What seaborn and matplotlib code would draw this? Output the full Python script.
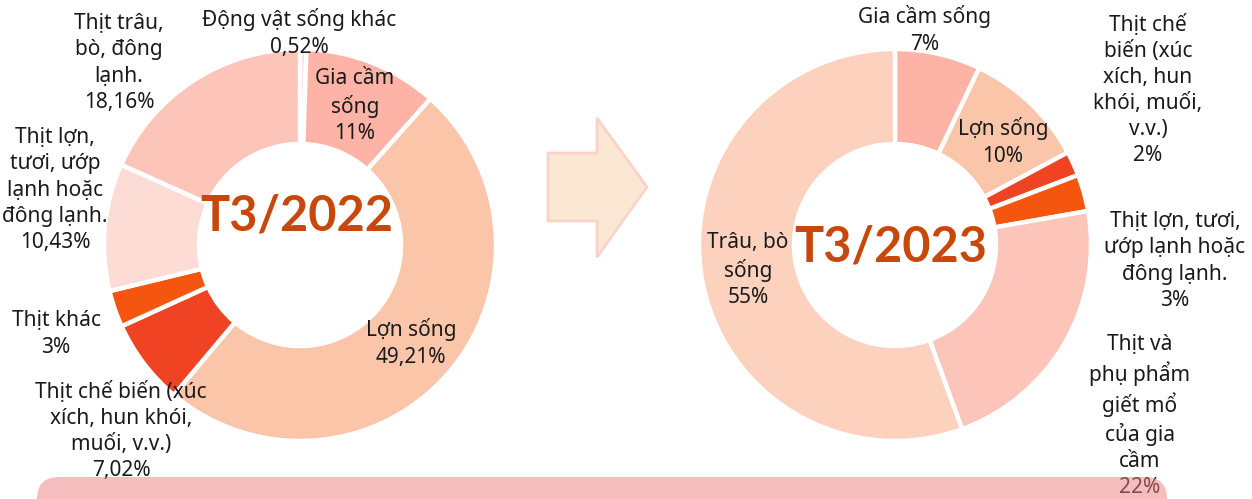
import matplotlib
matplotlib.use("Agg")
import matplotlib.pyplot as plt
from matplotlib.patches import FancyBboxPatch, Polygon
import seaborn as sns

# ---- data -------------------------------------------------------------
labels_2022 = [
    "Động vật sống khác\n0,52%",
    "Gia cầm\nsống\n11%",
    "Lợn sống\n49,21%",
    "Thịt chế biến (xúc\nxích, hun khói,\nmuối, v.v.)\n7,02%",
    "Thịt khác\n3%",
    "Thịt lợn,\ntươi, ướp\nlạnh hoặc\nđông lạnh.\n10,43%",
    "Thịt trâu,\nbò, đông\nlạnh.\n18,16%",
]
values_2022 = [0.52, 11, 49.21, 7.02, 3, 10.43, 18.16]

labels_2023 = [
    "Gia cầm sống\n7%",
    "Lợn sống\n10%",
    "Thịt chế\nbiến (xúc\nxích, hun\nkhói, muối,\nv.v.)\n2%",
    "Thịt lợn, tươi,\nướp lạnh hoặc\nđông lạnh.\n3%",
    "Thịt và\nphụ phẩm\ngiết mổ\ncủa gia\ncầm\n22%",
    "Trâu, bò\nsống\n55%",
]
values_2023 = [7, 10, 2, 3, 22, 55]

titles = ["T3/2022", "T3/2023"]

# ---- styling ----------------------------------------------------------
colors_2022 = ["#fcdcd5", "#fdb4a6", "#fbc5aa", "#f04323", "#f4560f", "#fddcd6", "#fdc4b9"]
colors_2023 = ["#fdb4a6", "#fbc5aa", "#f04323", "#f4560f", "#fdc4b9", "#fcd1bd"]

sns.set_theme(style="white")
plt.rcParams["font.family"] = ["Noto Sans", "DejaVu Sans"]

W, H = 1252, 499
fig = plt.figure(figsize=(W / 100, H / 100), dpi=100)
ax = fig.add_axes([0, 0, 1, 1])

# layout (pixel positions, y measured from the top)
donut_centres = [(300, 245), (895, 245)]
outer_r = 196
ring_w = 95
title_pos = [(297, 216), (891, 247)]
label_pos_2022 = [(299, 33), (355, 106), (411, 343), (121, 431), (56, 334), (55, 190), (119, 63)]
label_pos_2023 = [(925, 30), (1003, 142), (1148, 90), (1175, 261), (1140, 416), (748, 270)]

label_color = "#1a1a1a"
title_color = "#c8470b"

charts = [
    (values_2022, labels_2022, colors_2022, label_pos_2022),
    (values_2023, labels_2023, colors_2023, label_pos_2023),
]

for (vals, labs, cols, lpos), (cx, cy), title, (tx, ty) in zip(
        charts, donut_centres, titles, title_pos):
    ax.pie(
        vals,
        colors=cols,
        startangle=90,
        counterclock=False,
        radius=outer_r,
        center=(cx, H - cy),
        wedgeprops=dict(width=ring_w, edgecolor="white", linewidth=3.2),
    )
    for text, (lx, ly) in zip(labs, lpos):
        ax.text(lx, H - ly, text, ha="center", va="center", multialignment="center",
                fontsize=15, color=label_color, linespacing=1.32, zorder=5)
    ax.text(tx, H - ty, title, ha="center", va="center", fontsize=35,
            fontweight="bold", family=["Lato", "DejaVu Sans"], color=title_color, zorder=6)

# block arrow between the two donuts
arrow_pts = [(548, 153), (597, 153), (597, 118), (647, 187),
             (597, 257), (597, 221), (548, 221)]
ax.add_patch(Polygon([(x, H - y) for x, y in arrow_pts], closed=True,
                     facecolor="#fbe8d4", edgecolor="#f9d2c8", linewidth=2, zorder=3))

# rounded note panel along the bottom edge, translucent over the labels
ax.add_patch(FancyBboxPatch((37, -60), 1130, 82,
                            boxstyle="round,pad=0,rounding_size=22",
                            facecolor="#ee7c80", edgecolor="none", alpha=0.5, zorder=10))

ax.set_xlim(0, W)
ax.set_ylim(0, H)
ax.set_aspect("auto")
ax.axis("off")

fig.savefig("out.png", dpi=100)
